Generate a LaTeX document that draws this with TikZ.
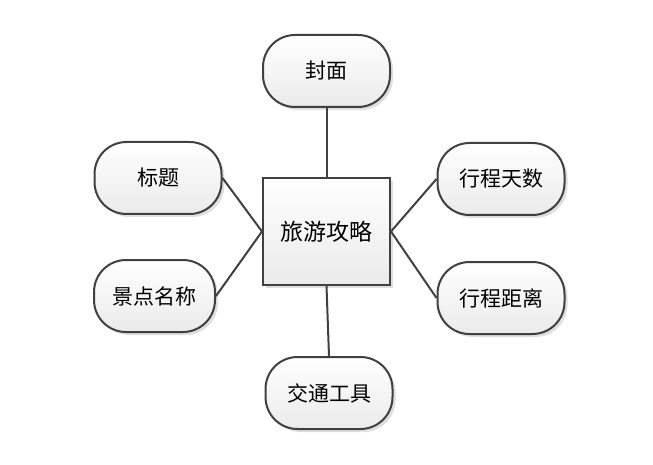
\documentclass[tikz,border=0pt]{standalone}
\usepackage{fontspec}
\newfontfamily\cjk{Noto Sans CJK SC}
\usetikzlibrary{shadows}
\definecolor{edge}{HTML}{404040}
\tikzset{
  x=1pt, y=-1pt,
  item/.style={draw=edge, line width=2pt, rounded corners=32pt,
    top color=white, bottom color=black!8,
    minimum width=127pt, minimum height=72pt, inner sep=0pt,
    font=\cjk\fontsize{21}{21}\selectfont,
    drop shadow={opacity=0.25, shadow xshift=3pt, shadow yshift=-3pt}},
  hub/.style={draw=edge, line width=2pt,
    top color=white, bottom color=black!8,
    minimum width=127pt, minimum height=107pt, inner sep=0pt,
    font=\cjk\fontsize{23}{23}\selectfont,
    drop shadow={opacity=0.25, shadow xshift=3pt, shadow yshift=-3pt}},
  link/.style={draw=edge, line width=2pt}
}
\begin{document}
\begin{tikzpicture}
\useasboundingbox (0,0) rectangle (653,465);
\node[hub]  (c)  at (326.5,231.5) {旅游攻略};
\node[item] (t)  at (326.5,71)  {封面};
\node[item] (l1) at (158,178)   {标题};
\node[item, minimum width=121pt] (l2) at (154.5,296) {景点名称};
\node[item] (r1) at (501,179)   {行程天数};
\node[item] (r2) at (501,298)   {行程距离};
\node[item] (b)  at (329,393)   {交通工具};
\draw[link] (t.south) -- (c.north);
\draw[link] (l1.east) -- (c.west);
\draw[link] (l2.east) -- (c.west);
\draw[link] (c.east) -- (r1.west);
\draw[link] (c.east) -- (r2.west);
\draw[link] (c.south) -- (b.north);
\end{tikzpicture}
\end{document}
